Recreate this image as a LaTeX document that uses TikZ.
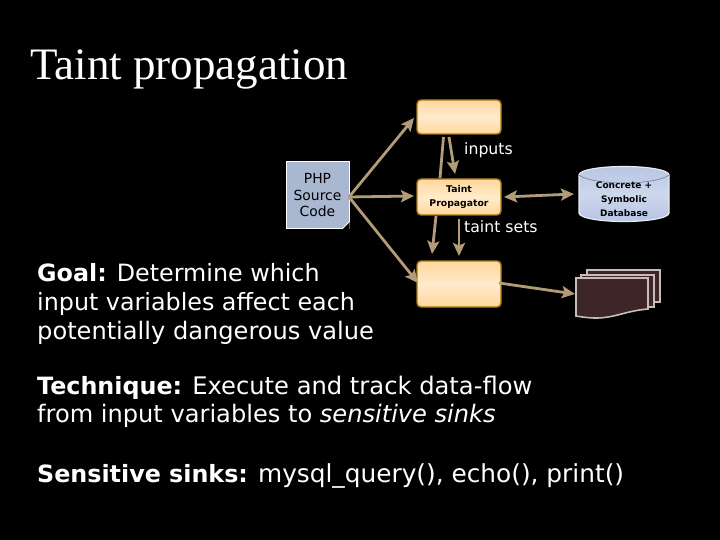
\documentclass[tikz,border=0pt]{standalone}
\usepackage{fontspec}
\setmainfont{DejaVu Sans}
\newfontfamily\titlefont{Liberation Serif}
\usetikzlibrary{arrows.meta,shapes.geometric}
\definecolor{arrowtan}{HTML}{B29B77}
\definecolor{docblue}{HTML}{A9B8D0}
\definecolor{sheetfill}{HTML}{3D2528}
\definecolor{sheetline}{HTML}{C8BCB8}
\definecolor{boxedge}{HTML}{A87A14}
\definecolor{boxdeep}{HTML}{FFD79C}
\definecolor{boxlight}{HTML}{FFEBCB}
\definecolor{dbtop}{HTML}{B8C6E4}
\definecolor{dbmid}{HTML}{CDD7EC}
\definecolor{dbedge}{HTML}{8A9CC8}
\tikzset{
  x=1pt,y=-1pt,
  body/.style={anchor=base west,inner sep=0pt,text=white,font=\fontsize{23.8}{29}\selectfont},
  bodywide/.style={anchor=base west,inner sep=0pt,text=white,font=\fontsize{24.1}{29}\selectfont},
  small/.style={text=white,align=center,inner sep=0pt,font=\fontsize{15.7}{18}\selectfont},
  orange/.style={draw=boxedge,line width=1.4pt,rounded corners=4pt,top color=boxdeep,bottom color=boxdeep,middle color=boxlight,minimum width=84pt,inner sep=0pt,text=black,align=center,font=\bfseries\fontsize{9.3}{14}\selectfont},
  conn/.style={draw=arrowtan,line width=2.8pt,-{Stealth[length=13pt,width=12pt,inset=2.5pt]}},
  bare/.style={draw=arrowtan,line width=2.8pt},
  both/.style={draw=arrowtan,line width=2.8pt,{Stealth[length=13pt,width=12pt,inset=2.5pt]}-{Stealth[length=13pt,width=12pt,inset=2.5pt]}},
  sheet/.style={draw=sheetline,fill=sheetfill,line width=1.6pt},
}
\begin{document}
\begin{tikzpicture}
\useasboundingbox (0,0) rectangle (720,540);
\fill[black] (0,0) rectangle (720,540);
\node[anchor=base west,inner sep=0pt,text=white,font=\titlefont\fontsize{45}{48}\selectfont] (title) at (30,80) {Taint propagation};
% boxes
\node[orange,minimum height=34pt] (up) at (459,117) {};
\node[orange,minimum height=36pt] (prop) at (459,197) {Taint\\Propagator};
\node[orange,minimum height=46pt] (low) at (459,284) {};
% PHP doc
\node[draw=white,fill=docblue,line width=1pt,minimum width=63pt,minimum height=67pt,inner sep=0pt,text=black,align=center,font=\fontsize{13.9}{16.5}\selectfont] (php) at (317.5,195.5) {PHP\\Source\\Code};
\fill[black] (349.5,222) -- (349.5,229.5) -- (342,229.5) -- cycle;
\draw[white,line width=.8pt] (342,229) -- (349,222);
% database
\path[draw=white!80!dbedge,line width=1.2pt,top color=dbtop,bottom color=dbtop,middle color=dbmid]
  (579,175) .. controls (579,170) and (600,166.5) .. (624,166.5) .. controls (648,166.5) and (669,170) .. (669,175)
  -- (669,213) .. controls (669,218) and (648,221.5) .. (624,221.5) .. controls (600,221.5) and (579,218) .. (579,213) -- cycle;
\draw[dbedge!70!black,line width=.5pt] (579,175) .. controls (585,180) and (605,183) .. (624,183) .. controls (643,183) and (663,180) .. (669,175);
\node[inner sep=0pt,text=black,align=center,font=\bfseries\fontsize{9}{14}\selectfont] (db) at (624,199) {Concrete +\\Symbolic\\Database};
% stacked sheets
\draw[sheet] (587,270) rectangle (660,302);
\draw[sheet] (581,275) rectangle (654,307);
\draw[sheet] (576,278) -- (648,278) -- (648,309) .. controls (625,311) and (615,318) .. (596,318) .. controls (588,318) and (582,317) .. (576,316) -- cycle;
% connectors
\coordinate (a1) at (349,197);
\coordinate (upin) at (414,118);
\coordinate (propin) at (414,196);
\coordinate (lowin) at (418,283);
\coordinate (upout1) at (443.5,137);
\coordinate (propin1) at (440,178);
\coordinate (upout2) at (449,137);
\coordinate (propin2) at (455,174);
\coordinate (propout1) at (436,216);
\coordinate (lowin1) at (432,254);
\coordinate (propout2) at (459,219);
\coordinate (lowin2) at (459,256);
\coordinate (propeast) at (504,197);
\coordinate (dbwest) at (574,194);
\coordinate (loweast) at (499,283);
\coordinate (sheetin) at (575,294);
\draw[conn] (a1) -- (upin);
\draw[conn] (a1) -- (propin);
\draw[conn] (a1) -- (lowin);
\draw[bare] (upout1) -- (propin1);
\draw[conn] (upout2) -- (propin2);
\draw[conn] (propout1) -- (lowin1);
\draw[conn] (propout2) -- (lowin2);
\draw[both] (propeast) -- (dbwest);
\draw[conn] (loweast) -- (sheetin);
% labels
\node[small,anchor=base west] (inp) at (464,155) {inputs};
\node[small,anchor=base west] (tset) at (464,233) {taint sets};
\node[body] (g1) at (37,281) {\textbf{Goal:} Determine which};
\node[body] (g2) at (37,310) {input variables affect each};
\node[bodywide] (g3) at (37,339) {potentially dangerous value};
\node[body] (t1) at (37,394) {\textbf{Technique:} {\fontsize{24.2}{29}\selectfont Execute and track data-flow}};
\node[bodywide] (t2) at (37,422) {from input variables to \textit{sensitive sinks}};
\node[body] (s1) at (37,482) {\textbf{Sensitive sinks:} {\fontsize{24.8}{29}\selectfont mysql\_query(), echo(), print()}};
\end{tikzpicture}
\end{document}
